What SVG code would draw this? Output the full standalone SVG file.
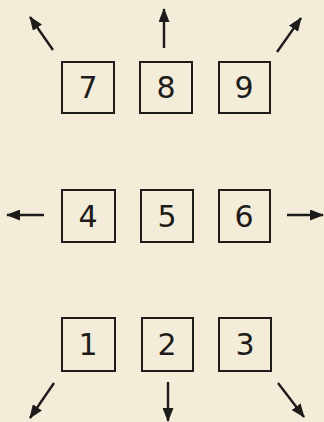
<svg xmlns="http://www.w3.org/2000/svg" width="324" height="422" viewBox="0 0 324 422">
<style>
.box{fill:none;stroke:#1e1c1a;stroke-width:2}
.num{font-family:"DejaVu Sans",sans-serif;font-size:30px;fill:#1e1c1a;text-anchor:middle}
.arr{stroke:#1e1c1a;stroke-width:2.4;fill:none;marker-end:url(#ah)}
</style>
<defs>
<marker id="ah" viewBox="0 0 14 11" refX="13" refY="5.5" markerWidth="14" markerHeight="11" markerUnits="userSpaceOnUse" orient="auto">
<path d="M0,0 L14,5.5 L0,11 Z" fill="#1e1c1a"/>
</marker>
</defs>
<rect width="324" height="422" fill="#f3ecd9"/>
<g id="n7"><rect class="box" x="62" y="62" width="52" height="51"/><text class="num" x="88" y="98">7</text></g>
<g id="n8"><rect class="box" x="140" y="62" width="52" height="51"/><text class="num" x="166" y="98">8</text></g>
<g id="n9"><rect class="box" x="219" y="62" width="51" height="51"/><text class="num" x="244" y="98">9</text></g>
<g id="n4"><rect class="box" x="62" y="190" width="53" height="52"/><text class="num" x="88" y="227">4</text></g>
<g id="n5"><rect class="box" x="141" y="190" width="52" height="52"/><text class="num" x="167" y="227">5</text></g>
<g id="n6"><rect class="box" x="219" y="190" width="51" height="52"/><text class="num" x="244" y="227">6</text></g>
<g id="n1"><rect class="box" x="62" y="318" width="53" height="53"/><text class="num" x="88" y="355">1</text></g>
<g id="n2"><rect class="box" x="142" y="318" width="51" height="53"/><text class="num" x="167" y="355">2</text></g>
<g id="n3"><rect class="box" x="219" y="318" width="52" height="53"/><text class="num" x="245" y="355">3</text></g>
<g id="connectors">
<line class="arr" x1="53" y1="50" x2="30" y2="17"/>
<line class="arr" x1="164" y1="48" x2="164" y2="9"/>
<line class="arr" x1="277" y1="52" x2="301" y2="18"/>
<line class="arr" x1="44" y1="215" x2="7" y2="215"/>
<line class="arr" x1="287" y1="215" x2="323" y2="215"/>
<line class="arr" x1="54" y1="383" x2="30" y2="418"/>
<line class="arr" x1="168" y1="382" x2="168" y2="421"/>
<line class="arr" x1="278" y1="383" x2="304" y2="417"/>
</g>
</svg>
